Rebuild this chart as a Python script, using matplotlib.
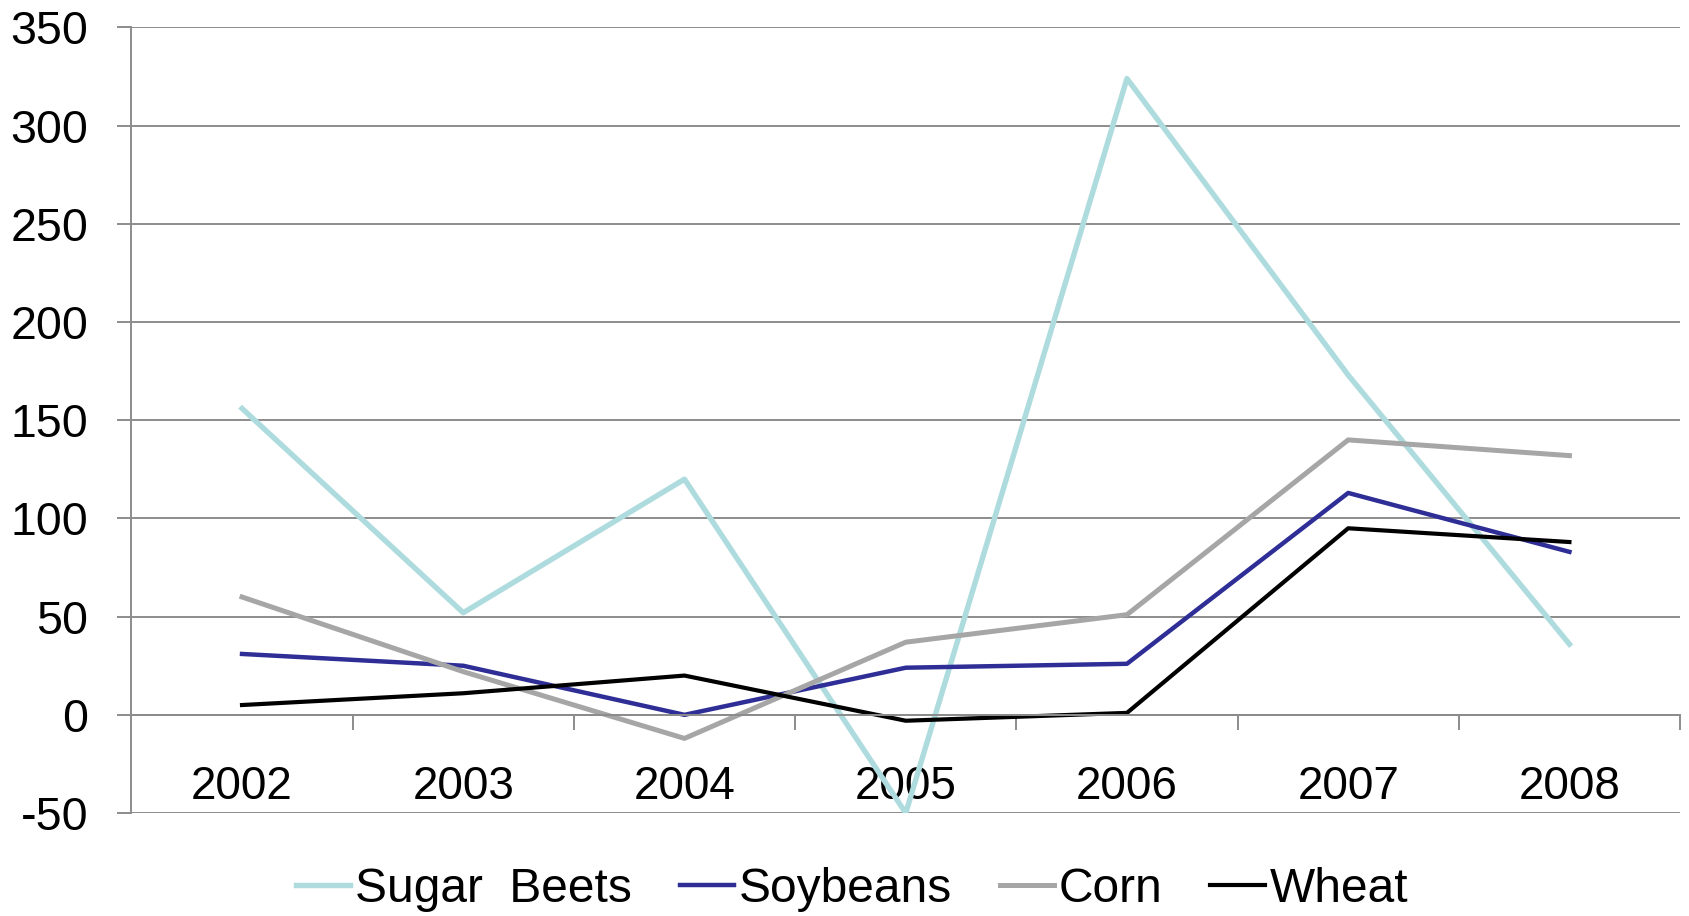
import matplotlib
matplotlib.use("Agg")
import matplotlib.pyplot as plt
import numpy as np

years = ["2002", "2003", "2004", "2005", "2006", "2007", "2008"]
sugar_beets = [156, 52, 120, -50, 324, 173, 36]
soybeans = [31, 25, 0, 24, 26, 113, 83]
corn = [60, 22, -12, 37, 51, 140, 132]
wheat = [5, 11, 20, -3, 1, 95, 88]

plt.rcParams['font.family'] = ['Liberation Sans', 'DejaVu Sans']
plt.rcParams['axes.unicode_minus'] = False

fig = plt.figure(figsize=(16.89, 9.16), dpi=100)
ax = fig.add_axes([0.0778, 0.1124, 0.9169, 0.8576])

x = np.arange(len(years))
ax.plot(x, sugar_beets, color='#AEDCDE', lw=3.9, label='Sugar  Beets')
ax.plot(x, soybeans, color='#2E2E96', lw=3.2, label='Soybeans')
ax.plot(x, corn, color='#A6A6A6', lw=3.6, label='Corn')
ax.plot(x, wheat, color='#000000', lw=3.0, label='Wheat')

ax.set_xlim(-0.5, len(years) - 0.5)
ax.set_ylim(-50, 350)
ax.set_yticks(range(-50, 351, 50))
ax.yaxis.grid(True, color='#8C8C8C', lw=1.4)
ax.set_axisbelow(True)

# x axis crosses at 0, ticks between categories
ax.spines['bottom'].set_position(('data', 0))
ax.spines['bottom'].set_color('#8C8C8C')
ax.spines['bottom'].set_linewidth(1.4)
ax.spines['left'].set_color('#8C8C8C')
ax.spines['left'].set_linewidth(1.4)
ax.spines['top'].set_visible(False)
ax.spines['right'].set_visible(False)

ax.set_xticks(x)
ax.set_xticklabels(years)
ax.set_xticks(np.arange(0.5, len(years), 1.0), minor=True)
ax.tick_params(axis='x', which='major', length=0, pad=36, labelsize=33)
ax.tick_params(axis='x', which='minor', length=11, width=1.4, color='#8C8C8C', direction='out')
ax.tick_params(axis='y', length=10, width=1.4, color='#8C8C8C', pad=21, labelsize=33.5)

ax.legend(loc='center', bbox_to_anchor=(852 / 1689, 1 - 889 / 916), bbox_transform=fig.transFigure,
          ncol=4, frameon=False, fontsize=34.5, handlelength=1.13, handletextpad=0.1,
          columnspacing=1.0)

fig.savefig('out.png', dpi=100)
